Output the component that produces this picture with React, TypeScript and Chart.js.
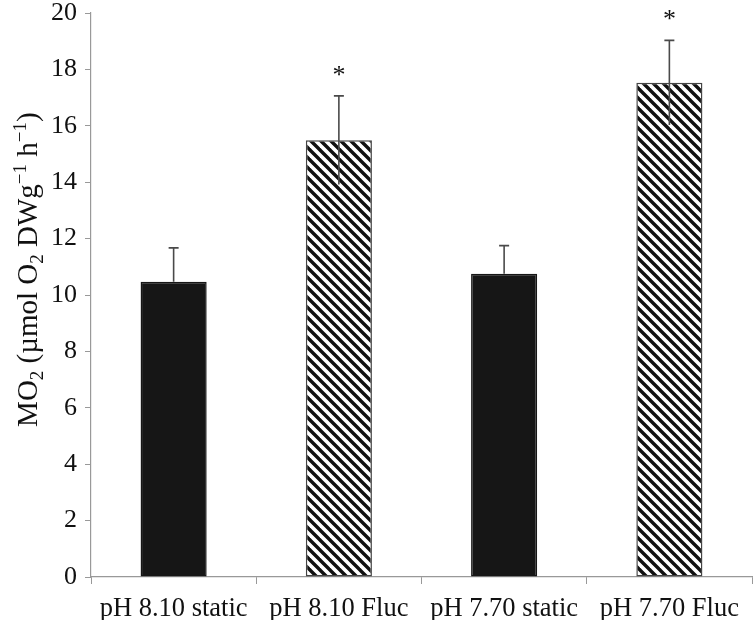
import React, { useEffect, useRef } from "react";
import { Chart, registerables } from "chart.js";

Chart.register(...registerables);

const categories = ["pH 8.10 static", "pH 8.10 Fluc", "pH 7.70 static", "pH 7.70 Fluc"];
const means = [10.47, 15.49, 10.75, 17.53];
const errors = [1.2, 1.57, 1.0, 1.5];
const significant = [false, true, false, true];
const hatched = [false, true, false, true];
const yTicks = [0, 2, 4, 6, 8, 10, 12, 14, 16, 18, 20];
// y-axis title pieces: [text, kind] where kind is "n" normal, "sub", "sup"
const titleParts: [string, string][] = [
  ["MO", "n"],
  ["2", "sub"],
  [" (µmol O", "n"],
  ["2", "sub"],
  [" DWg", "n"],
  ["−1", "sup"],
  [" h", "n"],
  ["−1", "sup"],
  [")", "n"],
];

const FONT = "'Liberation Serif', 'DejaVu Serif', serif";
const TITLE_SIZE = 29;
const SCRIPT_SIZE = 19;

function makeHatch(): CanvasPattern | string {
  const c = document.createElement("canvas");
  c.width = 10;
  c.height = 10;
  const g = c.getContext("2d");
  if (!g) return "#fff";
  g.fillStyle = "#ffffff";
  g.fillRect(0, 0, 10, 10);
  g.strokeStyle = "#111111";
  g.lineWidth = 3.4;
  g.lineCap = "square";
  const segs = [
    [-10, 0, 0, 10],
    [0, 0, 10, 10],
    [0, -10, 10, 0],
  ];
  for (const [x1, y1, x2, y2] of segs) {
    g.beginPath();
    g.moveTo(x1 - 2, y1 - 2);
    g.lineTo(x2 + 2, y2 + 2);
    g.stroke();
  }
  const p = g.createPattern(c, "repeat");
  return p || "#fff";
}

export default function App() {
  const ref = useRef<HTMLCanvasElement | null>(null);

  useEffect(() => {
    if (!ref.current) return;
    const hatch = makeHatch();

    const errorPlugin = {
      id: "errorBars",
      afterDatasetsDraw(chart: any) {
        const ctx = chart.ctx;
        const xs = chart.scales.x;
        const ys = chart.scales.y;
        ctx.save();
        ctx.strokeStyle = "#4a4a4a";
        ctx.lineWidth = 1.6;
        means.forEach((m, i) => {
          const x = xs.getPixelForValue(i);
          const yTop = ys.getPixelForValue(m + errors[i]);
          const yBot = hatched[i] ? ys.getPixelForValue(m - errors[i]) : ys.getPixelForValue(m);
          ctx.beginPath();
          ctx.moveTo(x, yBot);
          ctx.lineTo(x, yTop);
          ctx.moveTo(x - 5, yTop);
          ctx.lineTo(x + 5, yTop);
          ctx.stroke();
          if (significant[i]) {
            ctx.fillStyle = "#111111";
            ctx.font = `26px ${FONT}`;
            ctx.textAlign = "center";
            ctx.textBaseline = "middle";
            ctx.fillText("*", x, yTop - 20);
          }
        });
        ctx.restore();
      },
    };

    const titlePlugin = {
      id: "yTitle",
      afterDraw(chart: any) {
        const ctx = chart.ctx;
        const area = chart.chartArea;
        const fontFor = (k: string) => `${k === "n" ? TITLE_SIZE : SCRIPT_SIZE}px ${FONT}`;
        ctx.save();
        let total = 0;
        const widths = titleParts.map(([t, k]) => {
          ctx.font = fontFor(k);
          const w = ctx.measureText(t).width;
          total += w;
          return w;
        });
        const cy = area.top + (area.bottom - area.top) * 0.455;
        const baseX = 37;
        ctx.translate(baseX, cy);
        ctx.rotate(-Math.PI / 2);
        ctx.fillStyle = "#111111";
        ctx.textAlign = "left";
        ctx.textBaseline = "alphabetic";
        let x = -total / 2;
        titleParts.forEach(([t, k], i) => {
          ctx.font = fontFor(k);
          const dy = k === "sub" ? 6 : k === "sup" ? -11 : 0;
          ctx.fillText(t, x, dy);
          x += widths[i];
        });
        ctx.restore();
      },
    };

    const chart = new Chart(ref.current, {
      type: "bar",
      data: {
        labels: categories,
        datasets: [
          {
            data: means,
            backgroundColor: hatched.map((h) => (h ? hatch : "#161616")) as any,
            borderColor: hatched.map((h) => (h ? "#444444" : "#161616")),
            borderWidth: 1.5,
            borderSkipped: false,
            barPercentage: 1,
            categoryPercentage: 0.4,
          },
        ],
      },
      options: {
        animation: false,
        responsive: false,
        maintainAspectRatio: false,
        layout: { padding: { top: 13, right: 4, left: 0, bottom: 0 } },
        plugins: {
          legend: { display: false },
          tooltip: { enabled: false },
        },
        scales: {
          x: {
            grid: {
              offset: true,
              drawOnChartArea: false,
              drawTicks: true,
              tickLength: 7,
              color: "#999999",
            },
            border: { color: "#999999", width: 1.2 },
            ticks: {
              color: "#111111",
              font: { family: FONT, size: 26.5 },
              padding: 9,
              maxRotation: 0,
              autoSkip: false,
            },
            afterFit(scale: any) {
              scale.height = 43;
              scale.paddingLeft = 0;
              scale.paddingRight = 0;
            },
          },
          y: {
            min: 0,
            max: 20,
            afterBuildTicks(scale: any) {
              scale.ticks = yTicks.map((v) => ({ value: v }));
            },
            grid: {
              drawOnChartArea: false,
              drawTicks: true,
              tickLength: 6,
              color: "#999999",
            },
            border: { color: "#999999", width: 1.2 },
            ticks: {
              color: "#111111",
              font: { family: FONT, size: 26 },
              padding: 8,
            },
            title: { display: false },
            afterFit(scale: any) {
              scale.width = 91;
              scale.paddingTop = 0;
              scale.paddingBottom = 0;
            },
          },
        },
      },
      plugins: [errorPlugin, titlePlugin],
    });

    return () => chart.destroy();
  }, []);

  return (
    <div style={{ position: "fixed", left: 0, top: 0, width: 756, height: 620, background: "#fff" }}>
      <canvas ref={ref} width={756} height={620} style={{ width: 756, height: 620, display: "block" }} />
    </div>
  );
}
